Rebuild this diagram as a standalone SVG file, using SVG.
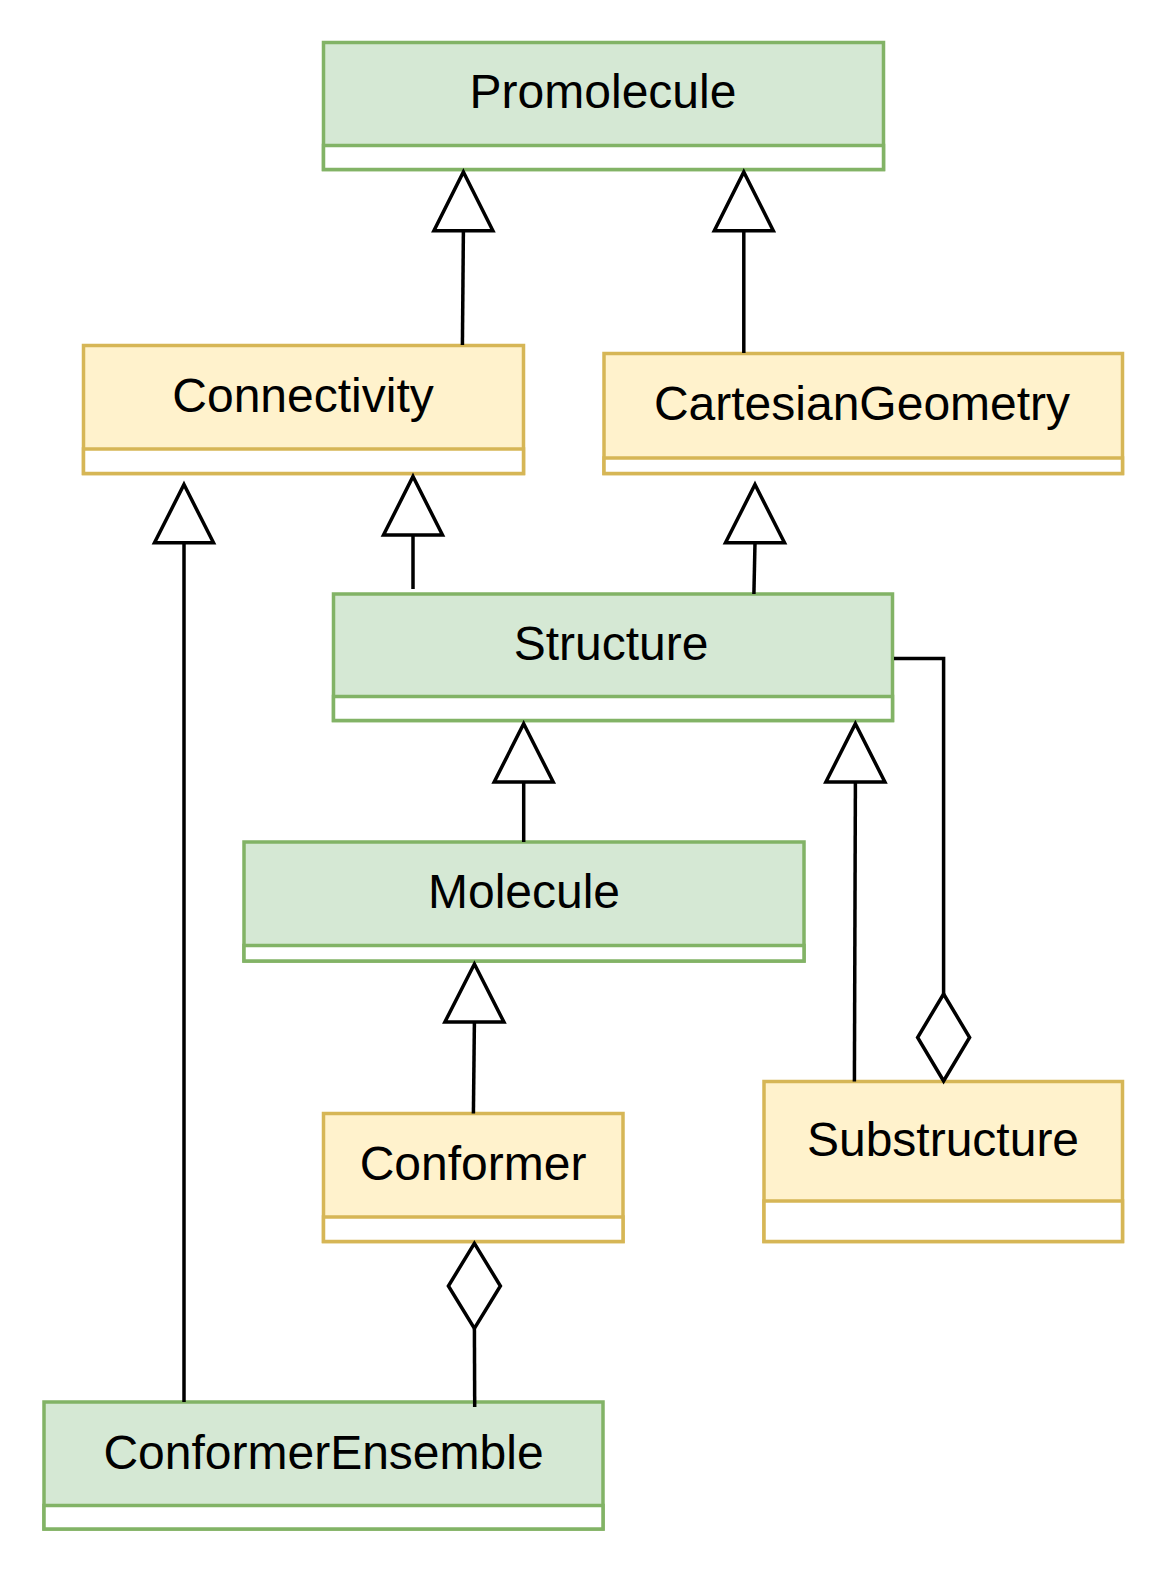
<svg xmlns="http://www.w3.org/2000/svg" width="1164" height="1576" viewBox="0 0 1164 1576">
<style>
.g{fill:#d5e8d4;stroke:#82b366;stroke-width:3.5}
.y{fill:#fff2cc;stroke:#d6b656;stroke-width:3.5}
.t{font-family:"Liberation Sans",Arial,sans-serif;font-size:48px;fill:#000;text-anchor:middle}
.c{fill:none;stroke:#000;stroke-width:3.5}
.h{fill:#fff;stroke:#000;stroke-width:3.5}
</style>
<rect width="1164" height="1576" fill="#fff"/>
<g id="Promolecule">
<rect class="g" x="323.5" y="42.5" width="560" height="127"/>
<rect class="g" x="323.5" y="145.5" width="560" height="24" style="fill:#fff"/>
<text class="t" x="603" y="108">Promolecule</text>
</g>
<g id="Connectivity">
<rect class="y" x="83.5" y="345.5" width="440" height="128"/>
<rect class="y" x="83.5" y="449" width="440" height="24.5" style="fill:#fff"/>
<text class="t" x="303" y="411.5">Connectivity</text>
</g>
<g id="CartesianGeometry">
<rect class="y" x="604" y="353.5" width="518.5" height="120"/>
<rect class="y" x="604" y="458" width="518.5" height="15.5" style="fill:#fff"/>
<text class="t" x="862" y="420">CartesianGeometry</text>
</g>
<g id="Structure">
<rect class="g" x="333.5" y="594" width="559" height="126.5"/>
<rect class="g" x="333.5" y="696.5" width="559" height="24" style="fill:#fff"/>
<text class="t" x="611" y="659.5">Structure</text>
</g>
<g id="Molecule">
<rect class="g" x="244" y="842" width="560" height="119"/>
<rect class="g" x="244" y="945.5" width="560" height="15.5" style="fill:#fff"/>
<text class="t" x="524" y="908">Molecule</text>
</g>
<g id="Conformer">
<rect class="y" x="323.5" y="1113.5" width="299.5" height="128"/>
<rect class="y" x="323.5" y="1217" width="299.5" height="24.5" style="fill:#fff"/>
<text class="t" x="473" y="1180">Conformer</text>
</g>
<g id="Substructure">
<rect class="y" x="764" y="1081.5" width="358.5" height="160"/>
<rect class="y" x="764" y="1201" width="358.5" height="40.5" style="fill:#fff"/>
<text class="t" x="943" y="1156">Substructure</text>
</g>
<g id="ConformerEnsemble">
<rect class="g" x="44" y="1402" width="559" height="127"/>
<rect class="g" x="44" y="1505.5" width="559" height="23.5" style="fill:#fff"/>
<text class="t" x="323.5" y="1469">ConformerEnsemble</text>
</g>
<g id="connectors">
<path class="c" d="M462.4 345 L463.4 230.7"/>
<path class="h" d="M463.4 172 L492.9 230.7 L433.9 230.7 Z"/>
<path class="c" d="M743.8 353 L743.8 230.7"/>
<path class="h" d="M743.8 172 L773.3 230.7 L714.3 230.7 Z"/>
<path class="c" d="M184 1402 L184 542.8"/>
<path class="h" d="M184 484.5 L213.5 542.8 L154.5 542.8 Z"/>
<path class="c" d="M413 589 L413 535"/>
<path class="h" d="M413 476.5 L442.5 535 L383.5 535 Z"/>
<path class="c" d="M753.9 594 L755 542.8"/>
<path class="h" d="M755 484.5 L784.5 542.8 L725.5 542.8 Z"/>
<path class="c" d="M523.7 842 L523.7 782"/>
<path class="h" d="M523.7 723.7 L553.2 782 L494.2 782 Z"/>
<path class="c" d="M854.4 1081.5 L855.4 782"/>
<path class="h" d="M855.4 723.7 L884.9 782 L825.9 782 Z"/>
<path class="c" d="M894 658.4 L943.6 658.4 L943.6 994"/>
<path class="h" d="M943.6 994 L969.6 1037.5 L943.6 1081 L917.6 1037.5 Z"/>
<path class="c" d="M473.4 1113.5 L474.4 1022"/>
<path class="h" d="M474.4 964 L503.9 1022 L444.9 1022 Z"/>
<path class="h" d="M474.4 1243.4 L500.4 1286 L474.4 1328.5 L448.4 1286 Z"/>
<path class="c" d="M474.4 1328.5 L474.7 1407"/>
</g>
</svg>
